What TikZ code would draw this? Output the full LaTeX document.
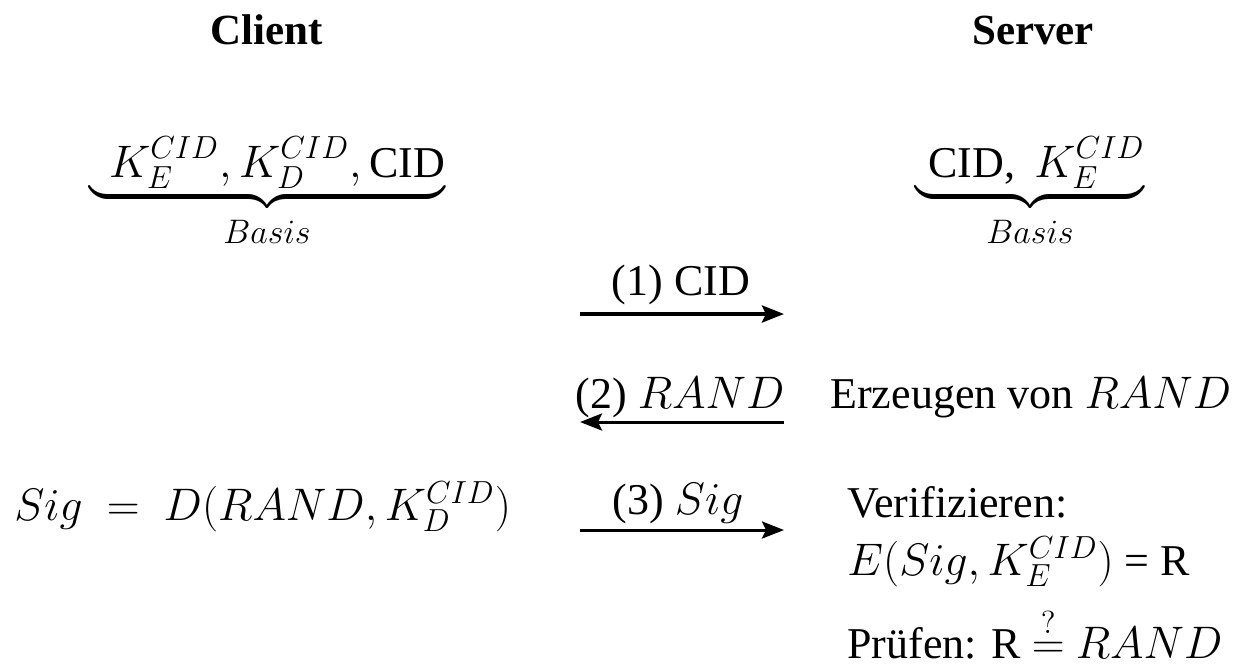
\RequirePackage{fix-cm}
\documentclass[tikz,border=0pt]{standalone}
\usepackage{amsmath}
\usepackage{fontspec}
\setmainfont{Liberation Serif}
\usetikzlibrary{arrows.meta}
\newcommand{\mth}[1]{{\fontsize{22.8}{27}\selectfont$#1$}}
\newcommand{\tx}[1]{\mbox{\fontsize{22}{26}\selectfont #1}}
\newcommand{\basislbl}{\mbox{\fontsize{17}{20}\selectfont\rule{0pt}{15.5pt}$Basis$}}
\begin{document}
\begin{tikzpicture}[x=0.5pt,y=-0.5pt,
  txt/.style={inner sep=0pt,font=\fontsize{22}{26}\selectfont},
  lbl/.style={txt,anchor=base},
  head/.style={lbl,font=\fontsize{21.5}{26}\selectfont\bfseries},
  msg/.style={line width=1.5pt,-{Stealth[length=11pt,width=8.5pt,inset=2pt]}}]
\useasboundingbox (0,0) rectangle (1235,666);
% headers
\node[head] (client) at (267,44) {Client};
\node[head] (server) at (1033,44) {Server};
% basis
\node[txt,anchor=base] (cbasis) at (267,177) {\mth{\underbrace{\hspace{10pt}K_E^{CID},K_D^{CID},\tx{CID}}_{\basislbl}}};
\node[txt,anchor=base] (sbasis) at (1030,177) {\mth{\underbrace{\hspace{6.5pt}\tx{CID,}\hspace{9.5pt}K_E^{CID}}_{\basislbl}}};
% arrows
\coordinate (a1s) at (580,314); \coordinate (a1e) at (784,314);
\coordinate (a2s) at (784,422); \coordinate (a2e) at (580,422);
\coordinate (a3s) at (580,530); \coordinate (a3e) at (784,530);
\draw[msg,line width=2pt] (a1s) -- (a1e);
\draw[msg] (a2s) -- (a2e);
\draw[msg] (a3s) -- (a3e);
\node[lbl] (l1) at (681,295) {(1) CID};
\node[lbl] (l2) at (680,408) {(2) \mth{RAND}};
\node[lbl] (l3) at (678,514) {(3) \mth{Sig}};
% client computation
\node[txt,anchor=base west] (sig) at (14,520) {\mth{Sig\ =\ D(RAND,K_D^{CID})}};
% server side
\node[txt,anchor=base west] (gen) at (830,408) {Erzeugen von \mth{RAND}};
\node[txt,anchor=base west] (ver) at (847,517) {Verifizieren:};
\node[txt,anchor=base west] (eq) at (847,575) {\mth{E(Sig,K_E^{CID})} = R};
\node[txt,anchor=base west] (chk) at (847,658) {Prüfen: R \mth{\stackrel{?}{=}} \mth{RAND}};
\end{tikzpicture}
\end{document}
